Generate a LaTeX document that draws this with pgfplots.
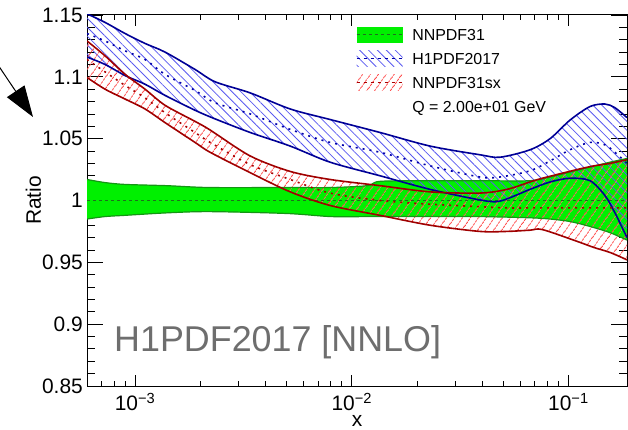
\documentclass[border=0pt]{standalone}
\usepackage{pgfplots}
\pgfplotsset{compat=1.18}
\usepackage{pgfplotstable}
\usepgfplotslibrary{fillbetween}
\usetikzlibrary{patterns.meta,arrows.meta}
\usepackage{fontspec}
\setmainfont{Liberation Sans}

\definecolor{gfill}{RGB}{0,240,0}
\definecolor{gedge}{RGB}{20,150,20}
\definecolor{gdash}{RGB}{30,110,30}
\definecolor{bedge}{RGB}{0,0,150}
\definecolor{bhatch}{RGB}{90,90,240}
\definecolor{bdot}{RGB}{0,0,170}
\definecolor{redge}{RGB}{160,0,0}
\definecolor{rhatch}{RGB}{255,70,70}
\definecolor{rdot}{RGB}{170,0,0}
\definecolor{labgray}{RGB}{110,110,110}

% NNPDF31 band
\pgfplotstableread{
x lo c hi
6.0e-4 0.985 1.0 1.017
7.27e-4 0.987 1.0 1.0145
9.0e-4 0.988 1.0 1.013
1.4e-3 0.990 1.0 1.012
2.2e-3 0.991 1.0 1.0105
5.0e-3 0.9895 1.0 1.0105
8.0e-3 0.987 1.0 1.0105
1.18e-2 0.987 1.0 1.012
1.35e-2 0.987 1.0 1.0155
2.3e-2 0.987 1.0 1.016
3.9e-2 0.987 1.0 1.016
6.65e-2 0.986 1.0 1.016
8.23e-2 0.985 1.0 1.019
0.1017 0.983 1.0 1.023
0.1258 0.979 1.0 1.027
0.1556 0.974 1.0 1.031
0.1864 0.968 1.0 1.034
}\greentab

% H1PDF2017 band
\pgfplotstableread{
x lo c hi
6.0e-4 1.116 1.135 1.151
7.27e-4 1.110 1.129 1.144
9.0e-4 1.101 1.121 1.135
1.112e-3 1.094 1.114 1.127
1.375e-3 1.085 1.102 1.120
1.89e-3 1.073 1.089 1.106
2.34e-3 1.066 1.079 1.096
3.4e-3 1.055 1.070 1.087
5.2e-3 1.044 1.0575 1.074
7.94e-3 1.031 1.047 1.0655
1.35e-2 1.020 1.039 1.055
2.3e-2 1.009 1.028 1.044
3.9e-2 1.0005 1.019 1.037
4.83e-2 0.9995 1.019 1.035
6.65e-2 1.009 1.024 1.041
8.23e-2 1.015 1.032 1.050
0.1017 1.018 1.041 1.065
0.1258 1.016 1.047 1.076
0.1475 1.004 1.045 1.078
0.164 0.990 1.039 1.075
0.1864 0.970 1.030 1.067
}\bluetab

% NNPDF31sx band
\pgfplotstableread{
x lo c hi
6.0e-4 1.0995 1.114 1.129
7.27e-4 1.090 1.104 1.117
9.0e-4 1.082 1.093 1.102
1.112e-3 1.074 1.083 1.090
1.375e-3 1.063 1.071 1.077
1.89e-3 1.047 1.055 1.064
2.22e-3 1.039 1.047 1.057
3.4e-3 1.0225 1.029 1.036
5.2e-3 1.007 1.017 1.0235
7.94e-3 0.996 1.006 1.017
1.35e-2 0.988 1.000 1.012
2.3e-2 0.980 0.997 1.007
3.9e-2 0.975 0.995 1.006
5.21e-2 0.975 0.994 1.009
6.65e-2 0.976 0.994 1.015
7.58e-2 0.9765 0.994 1.018
0.1095 0.967 0.994 1.025
0.1312 0.962 0.994 1.028
0.1556 0.958 0.994 1.030
0.1864 0.952 0.994 1.033
}\redtab

\tikzset{
  bluehatch/.style={pattern={Lines[angle=-45,distance=6.3bp,line width=0.8bp]}, pattern color=bhatch},
  redhatch/.style={pattern={Lines[angle=55,distance=6bp,line width=0.8bp]}, pattern color=rhatch},
}

\begin{document}
\begin{tikzpicture}
\begin{axis}[
  at={(0,0)}, anchor=south west,
  scale only axis, width=540bp, height=371bp,
  xmode=log, xmin=6e-4, xmax=0.1864, ymin=0.85, ymax=1.15,
  axis line style={line width=1bp, black},
  tick pos=both, tick align=inside,
  xtick={1e-3,1e-2,1e-1},
  xticklabels={10\textsuperscript{−3},10\textsuperscript{−2},10\textsuperscript{−1}},
  minor xtick={7e-4,8e-4,9e-4,2e-3,3e-3,4e-3,5e-3,6e-3,7e-3,8e-3,9e-3,2e-2,3e-2,4e-2,5e-2,6e-2,7e-2,8e-2,9e-2},
  ytick={0.85,0.9,0.95,1,1.05,1.1,1.15},
  yticklabels={0.85,0.9,0.95,1,1.05,1.1,1.15},
  minor ytick={0.86,0.87,0.88,0.89,0.91,0.92,0.93,0.94,0.96,0.97,0.98,0.99,1.01,1.02,1.03,1.04,1.06,1.07,1.08,1.09,1.11,1.12,1.13,1.14},
  major tick length=14bp, minor tick length=7bp,
  xtick style={line width=0.8bp, black, /pgfplots/major tick length=11bp, /pgfplots/minor tick length=5bp},
  ytick style={line width=0.8bp, black, /pgfplots/major tick length=16bp, /pgfplots/minor tick length=8bp},
  xticklabel style={font=\fontsize{21}{25}\selectfont, inner sep=0pt, yshift=-7bp},
  yticklabel style={font=\fontsize{21}{25}\selectfont, inner sep=0pt, xshift=-4bp},
  xlabel={x},
  xlabel style={font=\fontsize{21}{25}\selectfont, inner sep=0pt, at={(axis description cs:0.5,-0.1105)}, anchor=base},
  ylabel={Ratio},
  ylabel style={font=\fontsize{21}{25}\selectfont, inner sep=0pt, at={(axis description cs:-0.0991,0.5)}, anchor=center},
  legend cell align=left,
  legend style={draw=none, fill=none, inner sep=0pt, outer sep=0pt,
    at={(axis description cs:0.4976,0.9685)}, anchor=north west,
    row sep=8bp, column sep=9bp,
    font=\fontsize{16}{19}\selectfont,
    nodes={inner sep=0pt, anchor=base west}},
]
% invisible boundary paths
\addplot[draw=none, smooth, name path=gU, forget plot] table[x=x,y=hi]{\greentab};
\addplot[draw=none, smooth, name path=gL, forget plot] table[x=x,y=lo]{\greentab};
\addplot[draw=none, smooth, name path=bU, forget plot] table[x=x,y=hi]{\bluetab};
\addplot[draw=none, smooth, name path=bL, forget plot] table[x=x,y=lo]{\bluetab};
\addplot[draw=none, smooth, name path=rU, forget plot] table[x=x,y=hi]{\redtab};
\addplot[draw=none, smooth, name path=rL, forget plot] table[x=x,y=lo]{\redtab};
% NNPDF31
\addplot[fill=gfill, draw=none, forget plot] fill between[of=gU and gL];
\addplot[gedge, smooth, line width=1.2bp, forget plot] table[x=x,y=hi]{\greentab};
\addplot[gedge, smooth, line width=1.2bp, forget plot] table[x=x,y=lo]{\greentab};
\addplot[gdash, line width=1bp, dash pattern=on 3bp off 3bp, forget plot] table[x=x,y=c]{\greentab};
% hatches
\addplot[bluehatch, draw=none, forget plot] fill between[of=bU and bL];
\addplot[redhatch, draw=none, forget plot] fill between[of=rU and rL];
% H1PDF2017 lines
\addplot[bedge, smooth, line width=1.6bp, forget plot] table[x=x,y=hi]{\bluetab};
\addplot[bedge, smooth, line width=1.6bp, forget plot] table[x=x,y=lo]{\bluetab};
\addplot[bdot, smooth, line width=1.6bp, dash pattern=on 2bp off 5bp, forget plot] table[x=x,y=c]{\bluetab};
% NNPDF31sx lines
\addplot[redge, smooth, line width=1.6bp, forget plot] table[x=x,y=hi]{\redtab};
\addplot[redge, smooth, line width=1.6bp, forget plot] table[x=x,y=lo]{\redtab};
\addplot[rdot, smooth, line width=1.6bp, dash pattern=on 2bp off 5bp, forget plot] table[x=x,y=c]{\redtab};

\addlegendimage{draw=none, legend image code/.code={
  \path[fill=gfill, draw=none] (0bp,-2.3bp) rectangle (46bp,13.7bp);
  \draw[gdash, line width=1bp, dash pattern=on 3bp off 3bp] (0bp,5.7bp) -- (46bp,5.7bp);}}
\addlegendentry{NNPDF31}
\addlegendimage{draw=none, legend image code/.code={
  \path[bluehatch, draw=none] (0bp,-2.3bp) rectangle (46bp,13.7bp);
  \draw[bdot, line width=1.6bp, dash pattern=on 3bp off 4bp] (0bp,5.7bp) -- (46bp,5.7bp);}}
\addlegendentry{H1PDF2017}
\addlegendimage{draw=none, legend image code/.code={
  \path[redhatch, draw=none] (0bp,-2.3bp) rectangle (46bp,13.7bp);
  \draw[rdot, line width=1.6bp, dash pattern=on 3bp off 4bp] (0bp,5.7bp) -- (46bp,5.7bp);}}
\addlegendentry{NNPDF31sx}
\addlegendimage{draw=none, legend image code/.code={\path[draw=none, fill=none] (0bp,-2.3bp) rectangle (46bp,13.7bp);}}
\addlegendentry{Q = 2.00e+01 GeV}

\node[anchor=base west, inner sep=0pt, text=labgray, font=\fontsize{36}{40}\selectfont]
  at (axis description cs:0.05,0.0943) {H1PDF2017 [NNLO]};
\end{axis}
\pgfresetboundingbox
\path[use as bounding box] (-87bp,-44bp) rectangle (541bp,386bp);
\draw[line width=1bp, -{Triangle[length=31bp,width=21bp]}] (-95bp,330bp) -- (-54bp,269bp);
\end{tikzpicture}
\end{document}
